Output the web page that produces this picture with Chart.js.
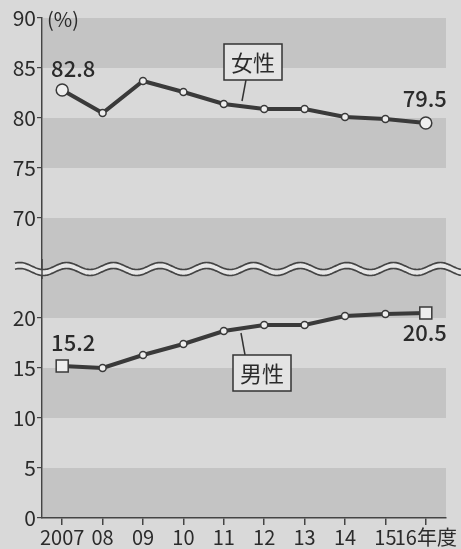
<!DOCTYPE html>
<html>
<head>
<meta charset="utf-8">
<script src="https://cdn.jsdelivr.net/npm/chart.js@4"></script>
<style>
  html, body { margin: 0; padding: 0; background: #d9d9d9; }
  #wrap { width: 461px; height: 549px; position: relative; }
</style>
</head>
<body>
<div id="wrap"><canvas id="chart"></canvas></div>
<script>
// tick labels on the x axis (last one carries the unit)
const years = ["2007", "08", "09", "10", "11", "12", "13", "14", "15", "16年度"];
// 女性 / 男性 (%)
const female = [82.8, 80.5, 83.7, 82.6, 81.4, 80.9, 80.9, 80.1, 79.9, 79.5];
const male = [15.2, 15.0, 16.3, 17.4, 18.7, 19.3, 19.3, 20.2, 20.4, 20.5];
const yTicks = [0, 5, 10, 15, 20, 70, 75, 80, 85, 90];
// shaded stripes, in real % values
const bands = [[0, 5], [10, 15], [20, 70], [75, 80], [85, 90]];

// broken axis: everything from 70 up is pulled down so 20..70 takes 10 units
const BREAK_LOW = 20, BREAK_HIGH = 70, BREAK_GAP = 10;
const SHIFT = BREAK_HIGH - BREAK_LOW - BREAK_GAP;
const toAxis = (v) => (v >= BREAK_HIGH ? v - SHIFT : v);
const fromAxis = (a) => (a >= BREAK_LOW + BREAK_GAP ? a + SHIFT : a);

const FONT = "'Noto Sans CJK JP', 'Noto Sans', sans-serif";
const INK = "#2b2b2b";
const BG = "#d9d9d9";
const BAND = "#c4c4c4";

const bandsPlugin = {
  id: "bands",
  beforeDraw(chart) {
    const { ctx, chartArea, scales } = chart;
    ctx.save();
    ctx.fillStyle = BG;
    ctx.fillRect(0, 0, chart.width, chart.height);
    ctx.fillStyle = BAND;
    bands.forEach(([lo, hi]) => {
      const yTop = scales.y.getPixelForValue(toAxis(hi));
      const yBot = scales.y.getPixelForValue(toAxis(lo));
      ctx.fillRect(chartArea.left + 1, yTop, chartArea.right - chartArea.left - 1, yBot - yTop);
    });
    ctx.restore();
  },
};

const extrasPlugin = {
  id: "extras",
  afterDatasetsDraw(chart) {
    const { ctx, chartArea, scales } = chart;
    const y = scales.y;

    // wavy break marks
    const cy = (y.getPixelForValue(BREAK_LOW) + y.getPixelForValue(BREAK_LOW + BREAK_GAP)) / 2 + 1;
    const amp = 3.5, period = 46.7, gap = 3, x0 = 15, x1 = chart.width;
    const wy = (x) => cy - amp * Math.cos(((x - 20) * 2 * Math.PI) / period);
    ctx.save();
    ctx.beginPath();
    for (let x = x0; x <= x1; x++) ctx.lineTo(x, wy(x) - gap);
    for (let x = x1; x >= x0; x--) ctx.lineTo(x, wy(x) + gap);
    ctx.closePath();
    ctx.fillStyle = "#e6e6e6";
    ctx.fill();
    ctx.strokeStyle = "#444";
    ctx.lineWidth = 1.7;
    [-gap, gap].forEach((d) => {
      ctx.beginPath();
      for (let x = x0; x <= x1; x++) ctx.lineTo(x, wy(x) + d);
      ctx.stroke();
    });
    // axis line through the break
    ctx.beginPath();
    ctx.moveTo(chartArea.left, cy - 10);
    ctx.lineTo(chartArea.left, cy + 10);
    ctx.strokeStyle = "#444";
    ctx.lineWidth = 1.5;
    ctx.stroke();

    // value labels at the ends
    const f = chart.getDatasetMeta(0).data;
    const m = chart.getDatasetMeta(1).data;
    const last = f.length - 1;
    ctx.fillStyle = INK;
    ctx.font = "500 22px " + FONT;
    ctx.textAlign = "center";
    ctx.textBaseline = "bottom";
    ctx.fillText(female[0].toFixed(1), f[0].x + 11, f[0].y - 10);
    ctx.fillText(female[last].toFixed(1), f[last].x - 1, f[last].y - 13);
    ctx.fillText(male[0].toFixed(1), m[0].x + 11, m[0].y - 12);
    ctx.textBaseline = "top";
    ctx.fillText(male[last].toFixed(1), m[last].x - 1, m[last].y + 9);

    // boxed series names with leader lines
    const box = (text, cx, top, lx0, ly0, lx1, ly1) => {
      ctx.font = "22px " + FONT;
      const w = 58, h = 36;
      ctx.strokeStyle = "#333";
      ctx.lineWidth = 1.5;
      ctx.beginPath();
      ctx.moveTo(lx0, ly0);
      ctx.lineTo(lx1, ly1);
      ctx.stroke();
      ctx.fillStyle = "#e4e4e4";
      ctx.fillRect(cx - w / 2, top, w, h);
      ctx.strokeRect(cx - w / 2, top, w, h);
      ctx.fillStyle = INK;
      ctx.textBaseline = "middle";
      ctx.fillText(text, cx, top + h / 2 + 1);
    };
    box("女性", 253, 44, 246, 80, 242, 101);
    box("男性", 262, 355, 241, 333, 245, 355);

    // (%) unit
    ctx.font = "20px " + FONT;
    ctx.textAlign = "left";
    ctx.textBaseline = "middle";
    ctx.fillStyle = INK;
    ctx.fillText("(%)", 47, 19);
    ctx.restore();
  },
};

const pointR = (n, end, mid) => female.map((_, i) => (i === 0 || i === n - 1 ? end : mid));

new Chart(document.getElementById("chart"), {
  type: "line",
  data: {
    labels: years,
    datasets: [
      {
        label: "女性",
        data: female.map(toAxis),
        borderColor: "#3a3a3a",
        borderWidth: 4,
        pointStyle: "circle",
        pointRadius: pointR(female.length, 6, 3.5),
        pointBackgroundColor: "#eeeeee",
        pointBorderColor: "#3a3a3a",
        pointBorderWidth: 1.5,
        tension: 0,
      },
      {
        label: "男性",
        data: male,
        borderColor: "#3a3a3a",
        borderWidth: 4,
        pointStyle: male.map((_, i) => (i === 0 || i === male.length - 1 ? "rect" : "circle")),
        pointRadius: pointR(male.length, 8.5, 3.5),
        pointBackgroundColor: "#eeeeee",
        pointBorderColor: "#3a3a3a",
        pointBorderWidth: 1.5,
        tension: 0,
      },
    ],
  },
  options: {
    responsive: true,
    maintainAspectRatio: false,
    animation: false,
    layout: { padding: { top: 18, right: 15, left: 0, bottom: 0 } },
    plugins: {
      legend: { display: false },
      tooltip: { enabled: false },
    },
    scales: {
      x: {
        offset: true,
        grid: {
          drawOnChartArea: false,
          drawTicks: true,
          tickLength: 7,
          color: "#444",
          lineWidth: 1.5,
        },
        border: { color: "#444", width: 1.5 },
        ticks: {
          color: INK,
          font: { family: FONT, size: 20 },
          padding: 0,
          maxRotation: 0,
          autoSkip: false,
        },
        afterFit(scale) {
          scale.height = 31;
        },
      },
      y: {
        min: 0,
        max: toAxis(90),
        afterBuildTicks(scale) {
          const keep = yTicks.map(toAxis);
          scale.ticks = scale.ticks.filter((t) => keep.includes(t.value));
        },
        ticks: {
          stepSize: 5,
          color: INK,
          font: { family: FONT, size: 21 },
          padding: 1,
          callback: (v) => String(fromAxis(v)),
        },
        grid: {
          drawOnChartArea: false,
          drawTicks: true,
          tickLength: 5,
          color: "#444",
          lineWidth: 1.2,
        },
        border: { color: "#444", width: 1.5 },
        afterFit(scale) {
          scale.width = 42;
        },
      },
    },
  },
  plugins: [bandsPlugin, extrasPlugin],
});
</script>
</body>
</html>
